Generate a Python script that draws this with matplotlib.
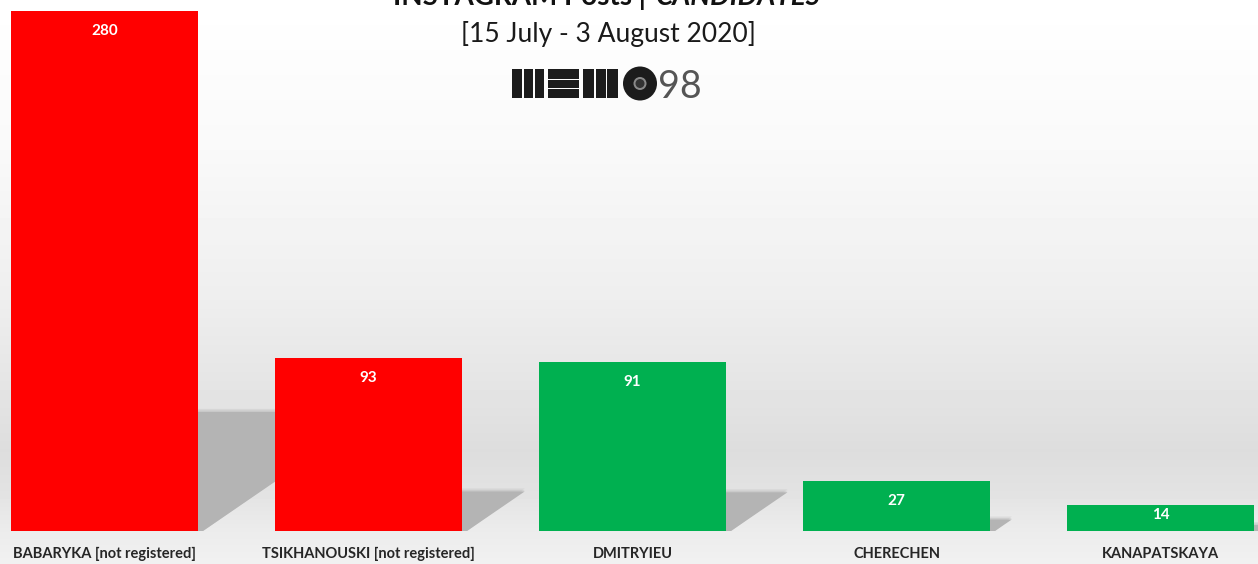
import numpy as np
import matplotlib
matplotlib.use("Agg")
import matplotlib.pyplot as plt
from matplotlib.patches import Polygon, Rectangle, Circle

# data
candidates = ["BABARYKA [not registered]", "TSIKHANOUSKI [not registered]",
              "DMITRYIEU", "CHERECHEN", "KANAPATSKAYA"]
posts = [280, 93, 91, 27, 14]
bar_colors = ["#ff0000", "#ff0000", "#00b050", "#00b050", "#00b050"]

W, H = 1258, 564
fig = plt.figure(figsize=(W / 100, H / 100), dpi=100)
plt.rcParams['font.family'] = ['Lato', 'DejaVu Sans']

ax = fig.add_axes([0, 0, 1, 1])
ppu_y = 520 / 280.0          # pixels per unit on y
ppu_x = 264.0                # pixels per category
ax.set_xlim(-104.5 / ppu_x, (W - 104.5) / ppu_x)
ax.set_ylim(-33 / ppu_y, (H - 33) / ppu_y)
ax.axis("off")

# background gradient (vertical)
ypx = np.arange(H)
gray = np.interp(ypx, [0, 150, 300, 400, 450, 490, 531, 564],
                 [255, 249, 238, 227, 221, 226, 236, 241]) / 255.0
bg = np.repeat(gray[:, None], 4, axis=1)
y0, y1 = ax.get_ylim()
x0, x1 = ax.get_xlim()
ax.imshow(bg, cmap="gray", vmin=0, vmax=1, extent=[x0, x1, y0, y1],
          origin="upper", aspect="auto", zorder=0)

x = np.arange(len(posts))
bw = 187 / ppu_x

# shadows behind the bars (a few layers for a soft edge)
for i, v in enumerate(posts):
    right = x[i] + bw / 2
    dy = 0.229 * v
    dx = (dy * ppu_y / 0.685) / ppu_x
    off = 5 / ppu_x
    for k, a in [(3, 0.25), (1.5, 0.35), (0, 1.0)]:
        s = k / ppu_y
        poly = Polygon([(right, 0), (right + off, 0), (right + off + dx, dy + s), (right, dy + s)],
                       closed=True, facecolor="#b4b4b4", edgecolor="none",
                       alpha=a, zorder=1)
        ax.add_patch(poly)

bars = ax.bar(x, posts, width=bw, color=bar_colors, zorder=2)

for i, v in enumerate(posts):
    off_px = min(20, v * ppu_y / 2 - 3)
    ax.text(x[i], v - off_px / ppu_y, str(v), ha="center", va="center",
            color="white", fontsize=11, fontweight="bold", zorder=3)
    ax.text(x[i], -23 / ppu_y, candidates[i], ha="center", va="center",
            color="#262626", fontsize=10.5, fontweight="bold", zorder=3)

# overlay in pixel coords for titles and logo
ov = fig.add_axes([0, 0, 1, 1], facecolor="none")
ov.set_xlim(0, W)
ov.set_ylim(H, 0)
ov.axis("off")

ov.text(646, 5, "INSTAGRAM Posts |", ha="right", va="baseline",
        fontsize=20, fontweight="bold", color="#111111")
ov.text(656, 5, "CANDIDATES", ha="left", va="baseline",
        fontsize=20, fontweight="bold", fontstyle="italic", color="#111111")
ov.text(608, 42, "[15 July - 3 August 2020]", ha="center", va="baseline",
        fontsize=19, color="#1a1a1a")

# MEMO98 logo
dark = "#1c1c1c"
for xa, xb in [(512, 522), (523.5, 533), (534.5, 544),
               (583, 594), (595.5, 605.5), (607, 618)]:
    ov.add_patch(Rectangle((xa, 69), xb - xa, 29, facecolor=dark, edgecolor="none"))
for ya, yb in [(69, 78.5), (79.5, 88), (89, 98)]:
    ov.add_patch(Rectangle((548, ya), 31, yb - ya, facecolor=dark, edgecolor="none"))
ov.add_patch(Circle((640, 83.5), 17, facecolor=dark, edgecolor="none"))
ov.add_patch(Circle((640, 83.5), 6.5, facecolor="#8a8a8a", edgecolor="none"))
ov.add_patch(Circle((640, 83.5), 4.5, facecolor="#333333", edgecolor="none"))
ov.text(680, 98, "98", ha="center", va="baseline", fontsize=27,
        fontweight="normal", color="#555555")

fig.savefig("out.png", dpi=100)
